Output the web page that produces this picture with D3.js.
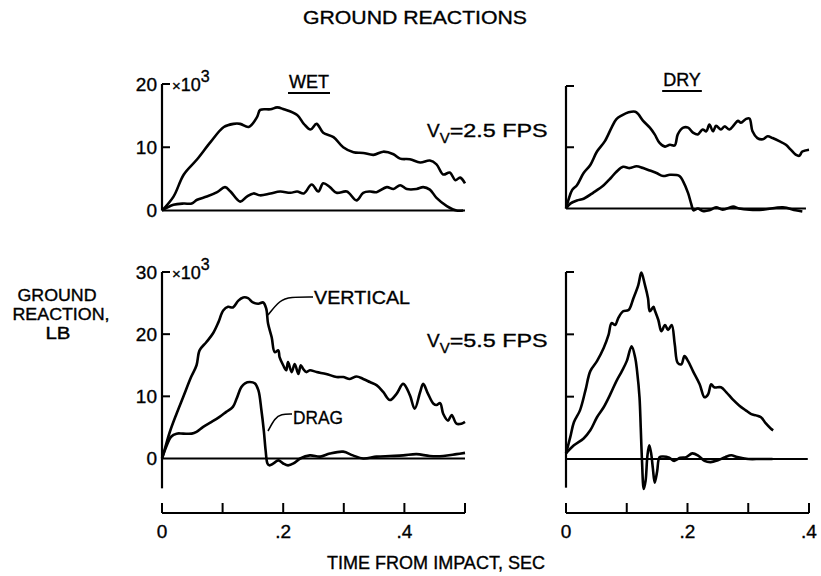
<!DOCTYPE html>
<html><head><meta charset="utf-8">
<script src="https://cdn.jsdelivr.net/npm/d3@7"></script>
<style>
body{margin:0;background:#fff;}
svg{display:block;}
text{font-family:"Liberation Sans",Arial,sans-serif;fill:#000;stroke:#000;stroke-width:0.35px;}
</style></head>
<body><svg id="c" width="821" height="576"></svg>
<script>
// ---- data: time (s) and ground reaction (x10^3 lb) ----
const wet25Vertical = [[0,0],[.019,2.2],[.036,5.7],[.058,8.1],[.080,10.8],[.102,13.2],[.118,13.7],[.129,13.7],[.143,13.2],[.157,14.8],[.162,15.9],[.179,16.0],[.190,16.3],[.201,16.0],[.223,15.1],[.234,13.7],[.245,12.8],[.255,13.7],[.266,12.3],[.283,11.6],[.299,10.0],[.316,9.2],[.332,9.1],[.349,8.8],[.365,9.3],[.382,8.9],[.393,8.2],[.409,8.1],[.426,7.6],[.442,7.9],[.453,7.3],[.464,5.7],[.475,6.0],[.484,4.8],[.492,5.2],[.500,4.3]];
const wet25Drag = [[0,0],[.019,.9],[.036,1.1],[.049,1.1],[.058,1.7],[.074,2.2],[.091,2.9],[.104,3.7],[.113,3.0],[.129,1.4],[.140,2.2],[.151,2.7],[.162,2.4],[.179,2.7],[.195,3.0],[.212,2.8],[.223,3.0],[.234,2.7],[.247,4.1],[.258,3.0],[.266,4.3],[.277,3.7],[.288,2.8],[.305,3.0],[.321,1.6],[.332,2.8],[.343,3.0],[.354,2.9],[.371,3.7],[.382,3.4],[.393,4.0],[.404,3.4],[.420,3.4],[.431,3.7],[.442,3.3],[.453,2.0],[.470,.7],[.486,0],[.497,0]];
const dry25Vertical = [[0,0],[.004,1.4],[.010,3.0],[.018,3.8],[.029,5.8],[.040,7.1],[.051,9.3],[.064,11.0],[.075,13.2],[.083,14.6],[.092,15.2],[.103,15.7],[.114,15.8],[.119,15.4],[.127,14.3],[.138,13.2],[.146,12.1],[.154,10.7],[.163,10.1],[.171,10.4],[.179,10.3],[.184,12.1],[.193,13.2],[.201,13.2],[.209,12.4],[.217,12.1],[.225,12.9],[.231,12.6],[.236,13.7],[.242,12.6],[.247,13.5],[.255,12.9],[.261,13.4],[.269,12.9],[.277,13.7],[.283,14.3],[.288,14.0],[.296,14.6],[.302,14.7],[.307,12.6],[.315,11.5],[.324,11.3],[.332,11.8],[.340,11.5],[.351,11.0],[.362,10.4],[.370,9.6],[.378,8.8],[.384,8.6],[.389,9.3],[.400,9.6]];
const dry25Drag = [[0,0],[.007,.8],[.018,1.3],[.029,1.6],[.045,2.6],[.062,3.8],[.073,4.9],[.083,6.0],[.094,6.8],[.105,6.6],[.116,6.9],[.127,6.6],[.138,6.2],[.149,5.8],[.160,5.3],[.171,5.5],[.187,5.3],[.193,4.4],[.201,2.5],[.206,.8],[.210,-.3],[.217,0],[.225,-.4],[.236,-.3],[.247,.2],[.258,-.2],[.275,.3],[.285,0],[.302,-.2],[.324,-.2],[.357,.2],[.378,-.3],[.389,-.5]];
const wet55Vertical = [[0,0],[.004,1.3],[.013,4.3],[.024,7.2],[.035,9.9],[.048,13.1],[.057,15.0],[.062,17.4],[.073,18.7],[.084,20.1],[.093,21.9],[.101,23.8],[.109,24.4],[.117,24.3],[.126,25.4],[.134,25.9],[.142,25.8],[.150,25.1],[.159,24.9],[.167,25.1],[.172,24.1],[.175,21.7],[.181,19.5],[.186,17.1],[.192,17.4],[.194,16.3],[.200,15.0],[.205,14.2],[.208,15.5],[.214,13.9],[.219,15.2],[.225,13.6],[.229,15.0],[.233,14.4],[.238,13.9],[.244,14.2],[.255,13.9],[.271,13.6],[.288,13.1],[.299,13.1],[.310,12.8],[.321,13.2],[.332,12.8],[.343,12.3],[.354,11.8],[.365,10.7],[.376,9.4],[.387,10.4],[.398,12.0],[.409,10.2],[.417,8.0],[.426,10.7],[.431,12.0],[.439,10.4],[.448,8.8],[.453,8.6],[.459,8.9],[.464,7.2],[.472,6.1],[.478,7.0],[.486,5.6],[.494,5.6],[.500,5.9]];
const wet55Drag = [[0,0],[.007,1.9],[.015,3.5],[.024,4.0],[.035,4.0],[.049,4.0],[.057,4.3],[.068,5.1],[.082,5.9],[.095,6.7],[.106,7.5],[.117,8.3],[.123,9.6],[.131,11.5],[.137,12.1],[.145,12.3],[.153,12.1],[.159,11.0],[.164,7.8],[.168,4.5],[.171,1.3],[.174,-.8],[.177,-1.1],[.184,-.8],[.192,-.3],[.200,-.8],[.208,-1.1],[.217,-.8],[.228,0],[.244,.5],[.261,.3],[.277,.8],[.299,1.1],[.315,.5],[.332,0],[.354,.3],[.376,.4],[.398,.5],[.420,.7],[.442,.4],[.464,.4],[.486,.7],[.500,.9]];
const dry55Vertical = [[0,.9],[.007,3.5],[.013,5.9],[.023,7.8],[.032,11.0],[.040,14.1],[.051,15.7],[.062,17.8],[.070,19.9],[.075,21.8],[.081,21.5],[.086,22.6],[.094,23.7],[.103,23.9],[.111,25.8],[.119,27.9],[.124,29.9],[.130,27.9],[.135,25.8],[.138,23.7],[.144,24.4],[.146,23.9],[.152,22.3],[.157,20.5],[.163,21.5],[.168,20.7],[.174,21.5],[.179,18.4],[.184,15.4],[.190,15.2],[.195,16.5],[.201,15.7],[.209,14.1],[.220,12.0],[.228,9.9],[.234,10.4],[.239,12.0],[.244,11.5],[.255,11.5],[.264,10.7],[.274,9.6],[.285,8.6],[.296,7.8],[.305,7.2],[.313,7.0],[.321,6.7],[.329,5.7],[.337,4.9],[.341,4.6]];
const dry55Drag = [[0,.9],[.013,2.2],[.029,3.3],[.040,4.6],[.051,6.7],[.062,8.3],[.073,10.4],[.083,12.5],[.092,14.1],[.100,15.7],[.108,18.1],[.114,16.2],[.117,14.1],[.121,9.9],[.123,5.1],[.125,0],[.128,-4.8],[.131,-3.5],[.134,.5],[.137,2.2],[.140,1.0],[.143,-1.5],[.146,-3.8],[.150,-2],[.154,.3],[.160,.4],[.170,.2],[.178,-.3],[.188,.2],[.198,.3],[.208,.9],[.218,.5],[.228,-.3],[.238,-.5],[.250,-.2],[.262,.3],[.272,.6],[.282,.3],[.300,0],[.320,0],[.340,0]];

const wetTicks = [0, .1, .2, .3, .4, .5];
const dryTicks = [0, .1, .2, .3, .4];
const timeLabels = {0:"0", 0.2:".2", 0.4:".4"};

// ---- layout ----
const svg = d3.select("#c");
const ink = "#000";

const xWet = d3.scaleLinear().domain([0, .5]).range([162, 465]);
const xDry = d3.scaleLinear().domain([0, .4]).range([566, 809]);
const yTopWet = d3.scaleLinear().domain([0, 20]).range([210.5, 84]);
const yTopDry = d3.scaleLinear().domain([0, 20]).range([208.5, 86]);
const yBotWet = d3.scaleLinear().domain([0, 30]).range([458.5, 272]);
const yBotDry = d3.scaleLinear().domain([0, 30]).range([459, 272]);

function panel(x, y, series, yTicks, yLabels, xEnd, yBottom) {
  const g = svg.append("g");
  g.append("line").attr("x1", x(0)).attr("x2", x(0))
    .attr("y1", y(yTicks[yTicks.length-1])).attr("y2", y(yBottom))
    .attr("stroke", ink).attr("stroke-width", 2.2);
  yTicks.slice(1).forEach(t => {
    g.append("line").attr("x1", x(0)).attr("x2", x(0)+8)
      .attr("y1", y(t)).attr("y2", y(t)).attr("stroke", ink).attr("stroke-width", 2);
  });
  g.append("line").attr("x1", x(0)).attr("x2", x(xEnd))
    .attr("y1", y(0)).attr("y2", y(0)).attr("stroke", ink).attr("stroke-width", 2.2);
  if (yLabels) {
    yTicks.forEach(t => {
      g.append("text").attr("x", x(0) - 5).attr("y", y(t)).attr("dy", "0.36em")
        .attr("text-anchor", "end").attr("font-size", 19).text(t);
    });
    const top = yTicks[yTicks.length-1];
    const lab = g.append("text").attr("x", x(0) + 10).attr("y", y(top) + 7);
    lab.append("tspan").attr("font-size", 15).text("\u00d7");
    lab.append("tspan").attr("font-size", 18).text("10");
    lab.append("tspan").attr("dy", -9).attr("font-size", 16).text("3");
  }
  const line = d3.line().x(d => x(d[0])).y(d => y(d[1])).curve(d3.curveCatmullRom.alpha(0.5));
  series.forEach(s => {
    g.append("path").datum(s).attr("d", line).attr("fill", "none")
      .attr("stroke", ink).attr("stroke-width", 2.6).attr("stroke-linejoin", "round");
  });
}

panel(xWet, yTopWet, [wet25Vertical, wet25Drag], [0, 10, 20], true, .5, 0);
panel(xDry, yTopDry, [dry25Vertical, dry25Drag], [0, 10, 20], false, .395, 0);
panel(xWet, yBotWet, [wet55Vertical, wet55Drag], [0, 10, 20, 30], true, .5, -4.8);
panel(xDry, yBotDry, [dry55Vertical, dry55Drag], [0, 10, 20, 30], false, .398, -4.6);

function timeAxis(x, ticks) {
  const yA = 513;
  const g = svg.append("g");
  g.append("line").attr("x1", x(ticks[0])).attr("x2", x(ticks[ticks.length-1]))
    .attr("y1", yA).attr("y2", yA).attr("stroke", ink).attr("stroke-width", 2.2);
  ticks.forEach(t => {
    g.append("line").attr("x1", x(t)).attr("x2", x(t)).attr("y1", yA).attr("y2", yA-10)
      .attr("stroke", ink).attr("stroke-width", 2);
    if (timeLabels[t] !== undefined) {
      g.append("text").attr("x", x(t)).attr("y", yA + 25).attr("text-anchor", "middle")
        .attr("font-size", 19).text(timeLabels[t]);
    }
  });
}
timeAxis(xWet, wetTicks);
timeAxis(xDry, dryTicks);

svg.append("text").attr("x", 415).attr("y", 24).attr("text-anchor", "middle")
  .attr("font-size", 19).attr("textLength", 224).attr("lengthAdjust", "spacingAndGlyphs")
  .text("GROUND REACTIONS");
function under(x, y, s) {
  const t = svg.append("text").attr("x", x).attr("y", y).attr("text-anchor", "middle")
    .attr("font-size", 18).text(s);
  const w = t.node().getComputedTextLength();
  svg.append("line").attr("x1", x - w/2 - 1).attr("x2", x + w/2 + 1)
    .attr("y1", y + 5).attr("y2", y + 5).attr("stroke", ink).attr("stroke-width", 2);
}
under(309, 88, "WET");
under(682, 86, "DRY");

function vv(x, y, s) {
  const t = svg.append("text").attr("x", x).attr("y", y).attr("font-size", 19);
  t.append("tspan").text("V");
  t.append("tspan").attr("dy", 6).attr("font-size", 15).text("V");
  t.append("tspan").attr("dy", -6).attr("textLength", 98).attr("lengthAdjust", "spacingAndGlyphs").text("=" + s + " FPS");
}
vv(427, 137, "2.5");
vv(427, 347, "5.5");

svg.append("path").attr("d", d3.line().curve(d3.curveBasis)([[313, 297], [290, 297], [280, 300], [268, 315]]))
  .attr("fill", "none").attr("stroke", ink).attr("stroke-width", 1.6);
svg.append("text").attr("x", 314).attr("y", 304).attr("font-size", 19).attr("textLength", 96)
  .attr("lengthAdjust", "spacingAndGlyphs").text("VERTICAL");
svg.append("path").attr("d", d3.line().curve(d3.curveBasis)([[292, 414], [281, 414], [275, 418], [268, 431]]))
  .attr("fill", "none").attr("stroke", ink).attr("stroke-width", 1.6);
svg.append("text").attr("x", 293).attr("y", 424).attr("font-size", 19).attr("textLength", 50)
  .attr("lengthAdjust", "spacingAndGlyphs").text("DRAG");

const yl = svg.append("text").attr("text-anchor", "middle").attr("font-size", 16);
[["GROUND", 57, 301, 79], ["REACTION,", 61, 320, 97], ["LB", 58, 339, 25]].forEach(d => {
  yl.append("tspan").attr("x", d[1]).attr("y", d[2]).attr("textLength", d[3])
    .attr("lengthAdjust", "spacingAndGlyphs").text(d[0]);
});
svg.append("text").attr("x", 436).attr("y", 569).attr("text-anchor", "middle")
  .attr("font-size", 18).attr("textLength", 218).attr("lengthAdjust", "spacingAndGlyphs")
  .text("TIME FROM IMPACT, SEC");
</script></body></html>
